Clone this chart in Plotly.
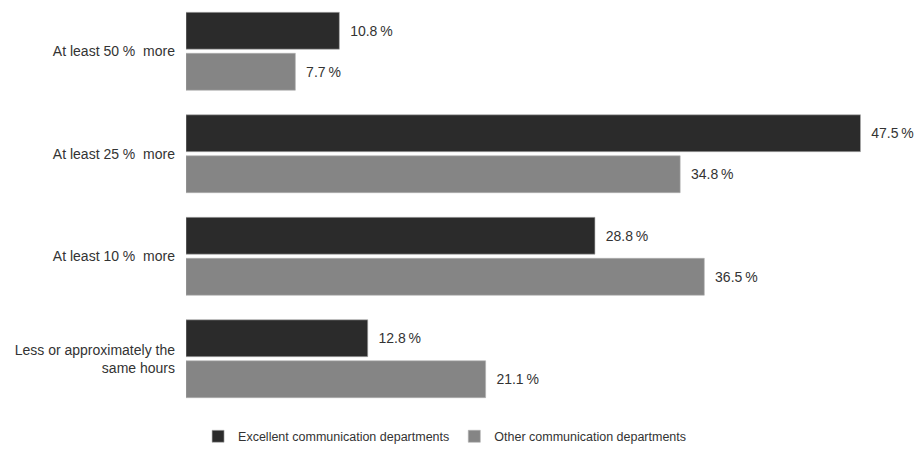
import plotly.graph_objects as go

categories = [
    "At least 50 %\u00a0 more",
    "At least 25 %\u00a0 more",
    "At least 10 %\u00a0 more",
    "Less or approximately the<br>same hours",
]
series_names = ["Excellent communication departments", "Other communication departments"]
excellent = [10.8, 47.5, 28.8, 12.8]
other = [7.7, 34.8, 36.5, 21.1]

colors = ["#2b2b2b", "#858585"]
font_family = "Liberation Sans, Arial, sans-serif"

fig = go.Figure()
for name, vals, col in zip(series_names, [excellent, other], colors):
    fig.add_trace(go.Bar(
        y=categories,
        x=vals,
        name=name,
        orientation="h",
        marker=dict(color=col, line=dict(color="#b0b0b0", width=0.6)),
        text=[f"\u00a0\u00a0{v}\u2009%" for v in vals],
        textposition="outside",
        textfont=dict(size=14, color="#333333", family=font_family),
        cliponaxis=False,
    ))

fig.update_layout(
    width=917,
    height=452,
    margin=dict(l=186, r=21, t=0, b=39),
    barmode="group",
    bargap=0.2,
    bargroupgap=0.1,
    plot_bgcolor="white",
    paper_bgcolor="white",
    font=dict(family=font_family, size=14, color="#333333"),
    xaxis=dict(range=[0, 50], visible=False, fixedrange=True),
    yaxis=dict(
        autorange="reversed",
        showline=False,
        showgrid=False,
        zeroline=False,
        ticks="",
        ticklabelstandoff=10,
        tickfont=dict(size=14, color="#333333"),
    ),
    legend=dict(
        orientation="h",
        x=0.017,
        xanchor="left",
        y=-0.065,
        yanchor="middle",
        font=dict(size=12.5, color="#333333"),
        itemwidth=30,
        traceorder="normal",
    ),
    showlegend=True,
)

fig.write_html("out.html")
